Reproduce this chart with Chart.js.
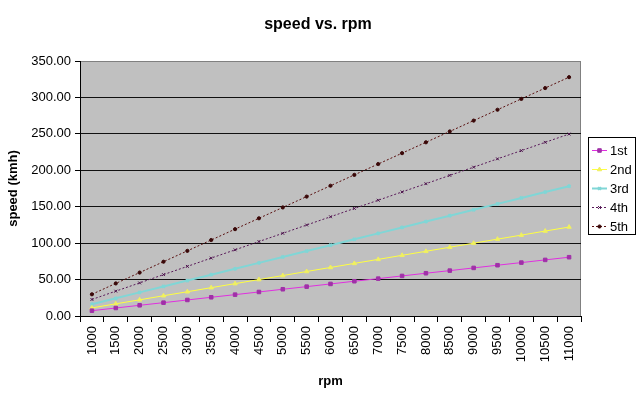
<!DOCTYPE html>
<html>
<head>
<meta charset="utf-8">
<script src="https://cdn.jsdelivr.net/npm/chart.js@4"></script>
<style>
  html, body { margin: 0; padding: 0; background: #fff; }
  #wrap { width: 640px; height: 396px; position: relative; }
</style>
</head>
<body>
<div id="wrap"><canvas id="grafico"></canvas></div>
<script>
// rotações (categorias do eixo x)
const rpm = ["1000","1500","2000","2500","3000","3500","4000","4500","5000","5500","6000",
             "6500","7000","7500","8000","8500","9000","9500","10000","10500","11000"];

// velocidades (km/h)
const marcha1 = [7.3, 11.0, 14.7, 18.3, 22.0, 25.7, 29.3, 33.0, 36.7, 40.3, 44.0,
                 47.7, 51.3, 55.0, 58.7, 62.3, 66.0, 69.7, 73.3, 77.0, 80.7];
const marcha2 = [11.1, 16.7, 22.2, 27.8, 33.3, 38.9, 44.4, 50.0, 55.5, 61.1, 66.6,
                 72.2, 77.7, 83.3, 88.8, 94.4, 99.9, 105.5, 111.0, 116.6, 122.1];
const marcha3 = [16.2, 24.3, 32.4, 40.5, 48.6, 56.7, 64.8, 72.9, 81.0, 89.1, 97.2,
                 105.3, 113.4, 121.5, 129.6, 137.7, 145.8, 153.9, 162.0, 170.1, 178.2];
const marcha4 = [22.7, 34.1, 45.4, 56.8, 68.1, 79.5, 90.8, 102.2, 113.5, 124.9, 136.2,
                 147.6, 158.9, 170.3, 181.6, 193.0, 204.3, 215.7, 227.0, 238.4, 249.7];
const marcha5 = [29.8, 44.7, 59.6, 74.5, 89.4, 104.3, 119.2, 134.1, 149.0, 163.9, 178.8,
                 193.7, 208.6, 223.5, 238.4, 253.3, 268.2, 283.1, 298.0, 312.9, 327.8];

const nomes = ["1st", "2nd", "3rd", "4th", "5th"];
const titulo = "speed vs. rpm";
const yTicks = { min: 0, max: 350, passo: 50 };

const fonte = "'Liberation Sans', Arial, sans-serif";

// fundo cinza da área do gráfico + borda + título centrado na página
const fundoPlugin = {
    id: "fundo",
    beforeDraw(chart) {
        const { ctx, chartArea: a } = chart;
        ctx.save();
        ctx.fillStyle = "#c0c0c0";
        ctx.fillRect(a.left, a.top, a.right - a.left, a.bottom - a.top);
        ctx.strokeStyle = "#808080";
        ctx.lineWidth = 1;
        ctx.strokeRect(a.left + 0.5, a.top + 0.5, a.right - a.left - 1, a.bottom - a.top);
        ctx.fillStyle = "#000";
        ctx.font = "bold 16px " + fonte;
        ctx.textAlign = "center";
        ctx.textBaseline = "middle";
        ctx.fillText(titulo, 318, 25);
        ctx.restore();
    }
};

// legenda no estilo Excel (caixa com linha + marcador)
const legendaPlugin = {
    id: "legendaExcel",
    afterDraw(chart) {
        const { ctx } = chart;
        const x = 588, y = 137, w = 47, h = 97;
        ctx.save();
        ctx.fillStyle = "#fff";
        ctx.fillRect(x, y, w, h);
        ctx.strokeStyle = "#000";
        ctx.lineWidth = 1;
        ctx.strokeRect(x + 0.5, y + 0.5, w, h);
        ctx.font = "13px " + fonte;
        ctx.textBaseline = "middle";
        chart.data.datasets.forEach((ds, i) => {
            const cy = 150 + i * 19;
            ctx.strokeStyle = ds.borderColor;
            ctx.lineWidth = ds.borderWidth;
            ctx.setLineDash(ds.borderDash || []);
            ctx.beginPath();
            ctx.moveTo(x + 4, cy + 0.5);
            ctx.lineTo(x + 19, cy + 0.5);
            ctx.stroke();
            ctx.setLineDash([]);
            ctx.fillStyle = ds.pointBackgroundColor;
            ctx.strokeStyle = ds.pointBorderColor;
            Chart.helpers.drawPoint(ctx, {
                pointStyle: ds.pointStyle, radius: ds.pointRadius, rotation: 0,
                borderWidth: 1
            }, x + 11.5, cy + 0.5);
            ctx.fillStyle = "#000";
            ctx.fillText(ds.label, x + 22, cy + 1);
        });
        ctx.restore();
    }
};

const series = [marcha1, marcha2, marcha3, marcha4, marcha5];
const estilos = [
    { cor: "#e030e0", marc: "#a030a8", forma: "rect", raio: 2.5, larg: 1, dash: [] },
    { cor: "#ffff40", marc: "#f0f060", forma: "triangle", raio: 2.5, larg: 1, dash: [] },
    { cor: "#80d6d6", marc: "#80d6d6", forma: "crossRot", raio: 2, larg: 2, dash: [] },
    { cor: "#5a1a5a", marc: "#4a104a", forma: "crossRot", raio: 2, larg: 1, dash: [2, 2] },
    { cor: "#5a1010", marc: "#3a0808", forma: "circle", raio: 1.6, larg: 1, dash: [2, 2] }
];

const datasets = series.map((dados, i) => ({
    label: nomes[i],
    data: dados,
    borderColor: estilos[i].cor,
    backgroundColor: estilos[i].marc,
    pointBorderColor: estilos[i].marc,
    pointBackgroundColor: estilos[i].marc,
    pointStyle: estilos[i].forma,
    pointRadius: estilos[i].raio,
    borderWidth: estilos[i].larg,
    borderDash: estilos[i].dash,
    tension: 0
}));

Chart.defaults.font.family = fonte;
Chart.defaults.color = "#000";

new Chart(document.getElementById("grafico").getContext("2d"), {
    type: "line",
    data: { labels: rpm, datasets },
    plugins: [fundoPlugin, legendaPlugin],
    options: {
        responsive: true,
        maintainAspectRatio: false,
        animation: false,
        layout: { padding: { left: 0, right: 59, top: 61, bottom: 0 } },
        plugins: {
            legend: { display: false },
            tooltip: { enabled: false },
            title: { display: false }
        },
        scales: {
            x: {
                offset: true,
                grid: { offset: true, drawOnChartArea: false, color: "#000", tickLength: 6 },
                border: { color: "#000" },
                ticks: { minRotation: 90, maxRotation: 90, autoSkip: false, padding: 4,
                         font: { size: 13 } },
                title: { display: true, text: "rpm", font: { size: 13, weight: "bold" },
                         padding: { top: 0, bottom: 7 } },
                afterFit(scale) { scale.height = 80; }
            },
            y: {
                min: yTicks.min,
                max: yTicks.max,
                ticks: { stepSize: yTicks.passo, padding: 4, font: { size: 13 },
                         callback: v => v.toFixed(2) },
                grid: {
                    tickLength: 5,
                    color: c => (c.tick && (c.tick.value === 0 || c.tick.value === 350)) ? "rgba(0,0,0,0)" : "#111",
                    tickColor: "#000"
                },
                border: { color: "#000" },
                title: { display: true, text: "speed (kmh)", font: { size: 13, weight: "bold" },
                         padding: { top: 6, bottom: 0 } },
                afterFit(scale) { scale.width = 80; }
            }
        }
    }
});
</script>
</body>
</html>
